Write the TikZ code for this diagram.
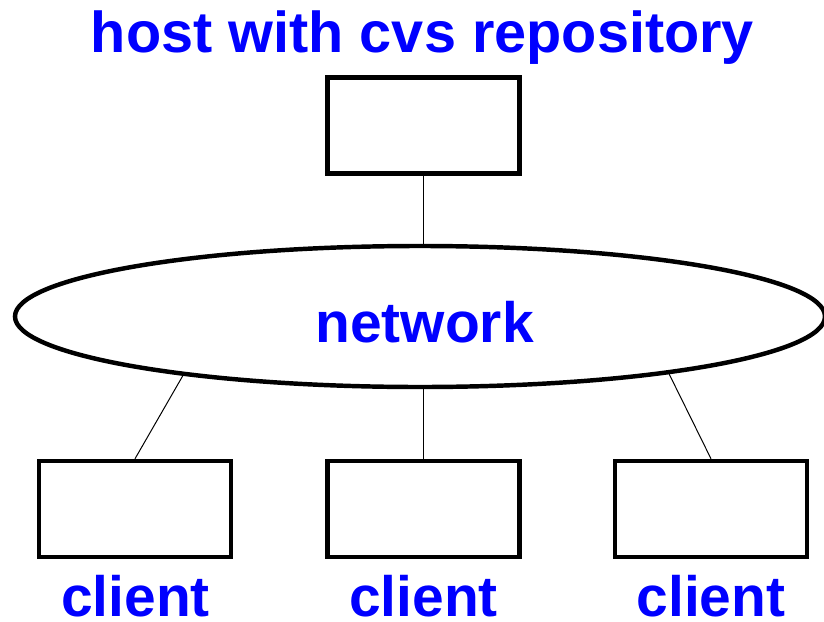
\documentclass[tikz,border=0pt]{standalone}
\usepackage{fontspec}
\setmainfont{Liberation Sans}
\usetikzlibrary{shapes.geometric}
\definecolor{labelblue}{RGB}{0,0,255}
\begin{document}
\begin{tikzpicture}[x=.03cm,y=-.03cm,
    box/.style={draw,line width=3.8pt,minimum width=5.76cm,minimum height=2.88cm,inner sep=0pt},
    lbl/.style={text=labelblue,font=\fontsize{48.6}{58}\selectfont\bfseries,anchor=base,inner sep=0pt},
    link/.style={line width=.85pt}]
    \useasboundingbox (0,0) rectangle (824,621);
    % host and network
    \node[lbl,font=\fontsize{49.2}{58}\selectfont\bfseries] (title) at (422.5,53) {host with cvs repository};
    \node[box] (host) at (423.5,125.5) {};
    \node[draw,ellipse,line width=3.8pt,minimum width=24.3cm,minimum height=4.23cm,inner sep=0pt] (net) at (420,316.5) {};
    \node[lbl] (netlbl) at (424.5,342) {network};
    % clients
    \node[box] (c1) at (135,509) {};
    \node[box] (c2) at (423.5,509) {};
    \node[box] (c3) at (711,509) {};
    \node[lbl] (l1) at (135.5,616) {client};
    \node[lbl] (l2) at (423.5,616) {client};
    \node[lbl] (l3) at (711,616) {client};
    \draw[link] (host.south) -- (host.south |- net.north);
    \draw[link] (net.194.3) -- (c1.north);
    \draw[link] (c2.north |- net.south) -- (c2.north);
    \draw[link] (net.-13.8) -- (c3.north);
\end{tikzpicture}
\end{document}
